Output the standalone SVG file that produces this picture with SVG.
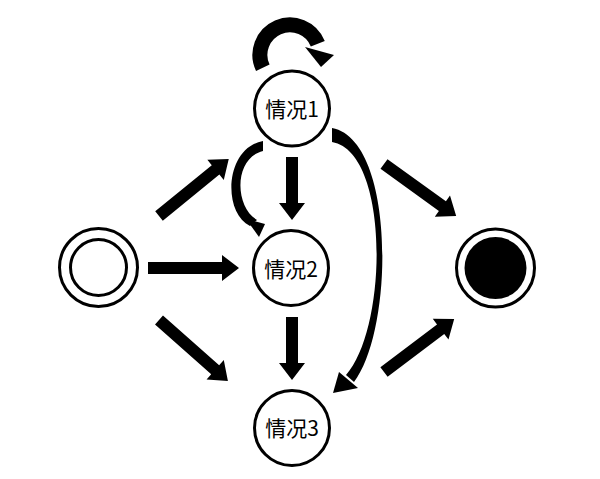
<svg xmlns="http://www.w3.org/2000/svg" width="600" height="479" viewBox="0 0 600 479">
<style>
.node{fill:#fff;stroke:#000;stroke-width:3}
.lbl{font-family:"Noto Sans CJK SC","Noto Sans",sans-serif;font-size:21px;fill:#000;text-anchor:middle}
.arr{fill:#000}
</style>
<rect width="600" height="479" fill="#fff"/>
<g id="connectors" class="arr">
  <polygon transform="translate(159,216) rotate(-39.2)" points="0,-6 73,-6 73,-13 90,0 73,13 73,6 0,6"/>
  <polygon transform="translate(148,268)" points="0,-6 74,-6 74,-13 91,0 74,13 74,6 0,6"/>
  <polygon transform="translate(159,320) rotate(41.5)" points="0,-6 75,-6 75,-13 92,0 75,13 75,6 0,6"/>
  <polygon transform="translate(292,157) rotate(90)" points="0,-6 46,-6 46,-13 63,0 46,13 46,6 0,6"/>
  <polygon transform="translate(292,317) rotate(90)" points="0,-6 46,-6 46,-13 63,0 46,13 46,6 0,6"/>
  <polygon transform="translate(384,164) rotate(35.8)" points="0,-6 72,-6 72,-13 89,0 72,13 72,6 0,6"/>
  <polygon transform="translate(384,372) rotate(-37.1)" points="0,-6 71,-6 71,-13 88,0 71,13 71,6 0,6"/>
  <!-- self loop on 情况1 -->
  <path d="M262.8,67.7 A30,30 0 1 1 317.8,43.8" fill="none" stroke="#000" stroke-width="15"/>
  <polygon points="305,47 334,55 321,67"/>
  <!-- curved 情况1 -> 情况2 -->
  <path d="M263,141 C225,148 222,212 250,226 L257,220 C234,206 234,158 263,151 Z"/>
  <polygon points="246,219 265,224 259,237"/>
  <!-- curved 情况1 -> 情况3 -->
  <path d="M332,128 C396,140 394,330 354,382 L346,375 C388,328 390,152 332,142 Z"/>
  <polygon points="339,372 358,388 333,393"/>
</g>
<g id="start">
  <circle class="node" cx="98.5" cy="267.5" r="39"/>
  <circle class="node" cx="98.5" cy="267.5" r="28"/>
</g>
<g id="end">
  <circle class="node" cx="495.5" cy="268" r="39"/>
  <circle cx="495.5" cy="268" r="31" fill="#000"/>
</g>
<g id="s1">
  <circle class="node" cx="292" cy="108.5" r="37.5"/>
  <text class="lbl" x="292" y="116.5">情况1</text>
</g>
<g id="s2">
  <circle class="node" cx="291" cy="268" r="37.5"/>
  <text class="lbl" x="291" y="277">情况2</text>
</g>
<g id="s3">
  <circle class="node" cx="292" cy="428" r="37.5"/>
  <text class="lbl" x="292" y="436">情况3</text>
</g>
</svg>
